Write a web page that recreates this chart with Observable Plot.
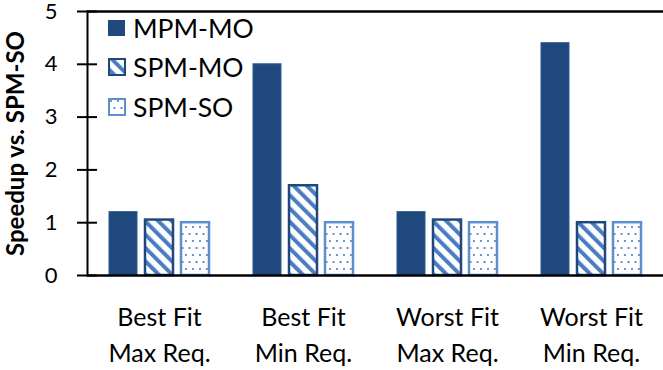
<!DOCTYPE html>
<html><head><meta charset="utf-8">
<script src="https://cdn.jsdelivr.net/npm/d3@7"></script>
<script src="https://cdn.jsdelivr.net/npm/@observablehq/plot@0.6"></script>
<style>
body{margin:0;background:#fff;}
#wrap{position:relative;width:663px;height:370px;font-family:Lato,sans-serif;}
#legend{position:absolute;left:108px;top:8px;font-size:26.5px;color:#000;}
.row{display:flex;align-items:center;height:39.5px;}
.row svg{margin-right:7px;}
</style></head>
<body>
<svg width="0" height="0" style="position:absolute">
  <defs>
    <pattern id="diag" patternUnits="userSpaceOnUse" width="9.4" height="9.4" patternTransform="rotate(-45)">
      <rect width="9.4" height="9.4" fill="#fff"/>
      <rect width="4" height="9.4" fill="#4A7EC0"/>
    </pattern>
    <pattern id="dots" patternUnits="userSpaceOnUse" width="14" height="14">
      <rect width="14" height="14" fill="#fff"/>
      <circle cx="3" cy="3" r="1.1" fill="#4A7EC0"/>
      <circle cx="10" cy="3" r="1.1" fill="#4A7EC0"/>
      <circle cx="6.5" cy="10" r="1.1" fill="#4A7EC0"/>
      <circle cx="13.5" cy="10" r="1.1" fill="#4A7EC0"/>
      <circle cx="-0.5" cy="10" r="1.1" fill="#4A7EC0"/>
    </pattern>
  </defs>
</svg>
<div id="wrap"><div id="legend"></div></div>
<script>
const groups = ["Best Fit\nMax Req.", "Best Fit\nMin Req.", "Worst Fit\nMax Req.", "Worst Fit\nMin Req."];
const series = ["MPM-MO", "SPM-MO", "SPM-SO"];
const mpmMO = [1.2, 4.0, 1.2, 4.4];
const spmMO = [1.05, 1.7, 1.05, 1.0];
const spmSO = [1.0, 1.0, 1.0, 1.0];
const yTicks = [0, 1, 2, 3, 4, 5];
const yLabel = "Speedup vs. SPM-SO";

const valuesBySeries = {"MPM-MO": mpmMO, "SPM-MO": spmMO, "SPM-SO": spmSO};
const rows = [];
groups.forEach((g, i) => series.forEach(s => rows.push({group: g, series: s, value: valuesBySeries[s][i]})));

const styles = {
  "MPM-MO": {fill: "#1F497D", stroke: "#2B5A94", strokeWidth: 1},
  "SPM-MO": {fill: "url(#diag)", stroke: "#1F497D", strokeWidth: 2.5},
  "SPM-SO": {fill: "url(#dots)", stroke: "#5B8FD0", strokeWidth: 2.5}
};

const plot = Plot.plot({
  width: 663, height: 370,
  marginLeft: 86, marginTop: 11, marginBottom: 95, marginRight: 0,
  style: {fontFamily: "Lato, sans-serif", fontSize: "22px", color: "#000", background: "transparent"},
  fx: {domain: groups, padding: 0, label: null},
  x: {domain: series, paddingInner: 0.216, paddingOuter: 0.557, axis: null},
  y: {domain: [0, 5], label: null},
  marks: [
    ...series.map(s => Plot.barY(rows.filter(d => d.series === s), {fx: "group", x: "series", y: "value", ...styles[s]})),
    Plot.ruleY([0, 5], {stroke: "#000", strokeWidth: 2.5}),
    Plot.frame({anchor: "left", facetAnchor: "left", stroke: "#000", strokeWidth: 2}),
    Plot.axisY(yTicks, {tickSize: -10, tickFormat: () => "", stroke: "#000", strokeWidth: 2, label: null}),
    Plot.axisY(yTicks, {tickSize: 10, tickPadding: 20, tickFormat: "d", stroke: "#000", strokeWidth: 2, fontSize: 22, label: yLabel, labelAnchor: "center", labelArrow: "none", labelOffset: 81}),
    Plot.axisFx({anchor: "bottom", tickSize: 0, tickPadding: 25, lineHeight: 1.44, fontSize: 25, label: null})
  ]
});
document.getElementById("wrap").prepend(plot);
d3.select(plot).selectAll('g[aria-label="y-axis label"]').attr("font-weight", "bold").style("font-size", "24px");

const legend = d3.select("#legend");
series.forEach(s => {
  const row = legend.append("div").attr("class", "row");
  const sw = row.append("svg").attr("width", 18).attr("height", 18);
  const st = styles[s];
  if (s === "MPM-MO") sw.append("rect").attr("x", 0).attr("y", 1).attr("width", 17).attr("height", 16).attr("fill", st.fill);
  else sw.append("rect").attr("x", 1).attr("y", 1).attr("width", 16).attr("height", 16).attr("fill", st.fill).attr("stroke", st.stroke).attr("stroke-width", 2);
  row.append("span").text(s);
});
</script>
</body></html>
